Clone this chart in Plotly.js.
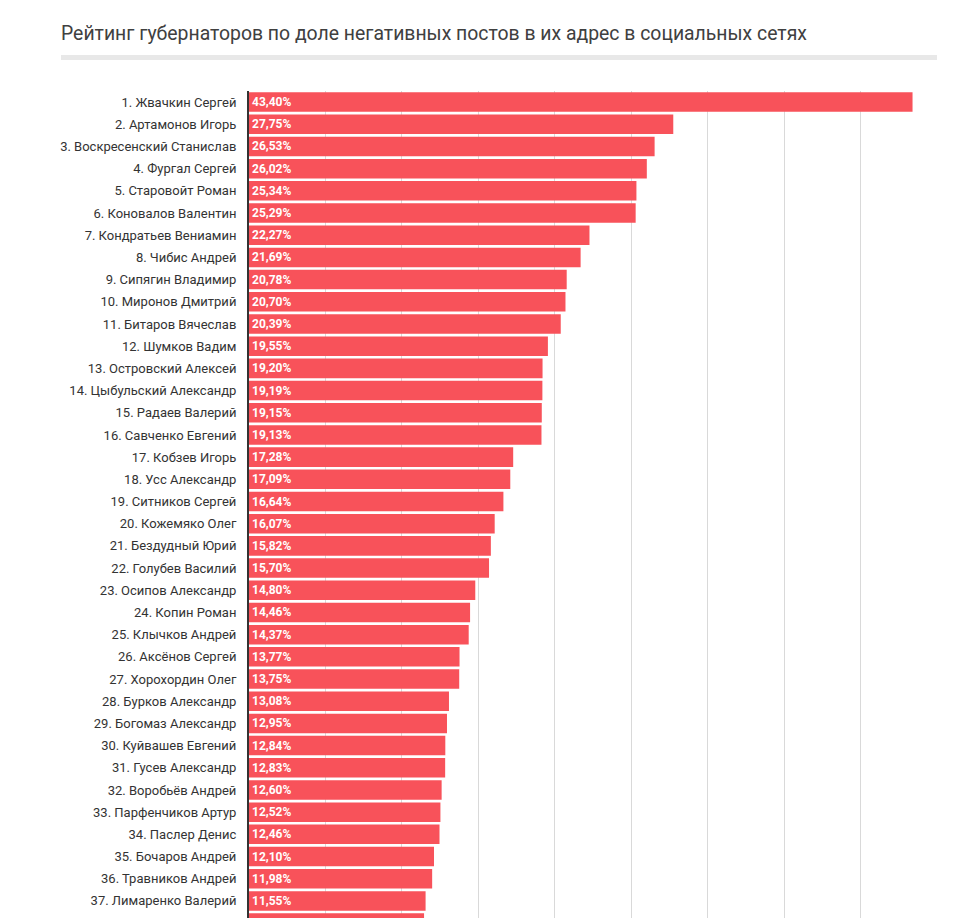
<!DOCTYPE html>
<html>
<head>
<meta charset="utf-8">
<script src="https://cdn.plot.ly/plotly-3.0.1.min.js"></script>
<style>
html,body{margin:0;padding:0;background:#fff;overflow:hidden;}
#chart{width:960px;height:918px;}
</style>
</head>
<body>
<div id="chart"></div>
<script>
const names = [
  "1. Жвачкин Сергей","2. Артамонов Игорь","3. Воскресенский Станислав","4. Фургал Сергей",
  "5. Старовойт Роман","6. Коновалов Валентин","7. Кондратьев Вениамин","8. Чибис Андрей",
  "9. Сипягин Владимир","10. Миронов Дмитрий","11. Битаров Вячеслав","12. Шумков Вадим",
  "13. Островский Алексей","14. Цыбульский Александр","15. Радаев Валерий","16. Савченко Евгений",
  "17. Кобзев Игорь","18. Усс Александр","19. Ситников Сергей","20. Кожемяко Олег",
  "21. Бездудный Юрий","22. Голубев Василий","23. Осипов Александр","24. Копин Роман",
  "25. Клычков Андрей","26. Аксёнов Сергей","27. Хорохордин Олег","28. Бурков Александр",
  "29. Богомаз Александр","30. Куйвашев Евгений","31. Гусев Александр","32. Воробьёв Андрей",
  "33. Парфенчиков Артур","34. Паслер Денис","35. Бочаров Андрей","36. Травников Андрей",
  "37. Лимаренко Валерий","38."
];
const values = [
  43.40,27.75,26.53,26.02,25.34,25.29,22.27,21.69,20.78,20.70,20.39,19.55,
  19.20,19.19,19.15,19.13,17.28,17.09,16.64,16.07,15.82,15.70,14.80,14.46,
  14.37,13.77,13.75,13.08,12.95,12.84,12.83,12.60,12.52,12.46,12.10,11.98,
  11.55,11.45
];
// the 38th bar is cut off by the bottom edge in the reference, its label is not visible
const visibleRows = 37;
const labels = values.map((v, i) => i < visibleRows ? v.toFixed(2).replace('.', ',') + '%' : '');
const titleText = "Рейтинг губернаторов по доле негативных постов в их адрес в социальных сетях";

const W = 960, H = 918, L = 249, R = 23, T = 91;
const plotW = W - L - R, plotH = H - T;
const px2paperX = x => (x - L) / plotW;
const px2paperY = y => 1 - (y - T) / plotH;

const trace = {
  type: 'bar',
  orientation: 'h',
  y: names,
  x: values,
  text: labels,
  textposition: 'inside',
  insidetextanchor: 'start',
  constraintext: 'none',
  textangle: 0,
  textfont: {family: 'Roboto, Arial, sans-serif', size: 12, color: '#ffffff', weight: 'bold'},
  marker: {color: '#f8525a', line: {width: 0}},
  hoverinfo: 'none'
};

const layout = {
  width: W, height: H,
  margin: {l: L, r: R, t: T, b: 0, pad: 0},
  paper_bgcolor: '#ffffff',
  plot_bgcolor: '#ffffff',
  showlegend: false,
  bargap: 0.12,
  title: {
    text: titleText,
    font: {family: 'Roboto, Arial, sans-serif', size: 19.4, color: '#404040'},
    xref: 'container', x: 61 / W, xanchor: 'left',
    yref: 'container', y: 1 - 33 / H, yanchor: 'middle'
  },
  xaxis: {
    range: [0, 45],
    dtick: 5,
    showgrid: true,
    gridcolor: '#d9d9d9',
    gridwidth: 1,
    zeroline: false,
    showticklabels: false,
    showline: false,
    fixedrange: true
  },
  yaxis: {
    type: 'category',
    range: [36.77, -0.5],
    showgrid: false,
    zeroline: false,
    showline: true,
    linecolor: '#333333',
    linewidth: 2,
    ticks: '',
    ticklabelstandoff: 8,
    tickfont: {family: 'Roboto, Arial, sans-serif', size: 13, color: '#333333'},
    fixedrange: true
  },
  shapes: [{
    type: 'rect', xref: 'paper', yref: 'paper',
    x0: px2paperX(61), x1: px2paperX(937),
    y0: px2paperY(60), y1: px2paperY(55),
    fillcolor: '#e8e8e8', line: {width: 0}, layer: 'above'
  }]
};

Plotly.newPlot('chart', [trace], layout, {displayModeBar: false, staticPlot: true});
</script>
</body>
</html>
